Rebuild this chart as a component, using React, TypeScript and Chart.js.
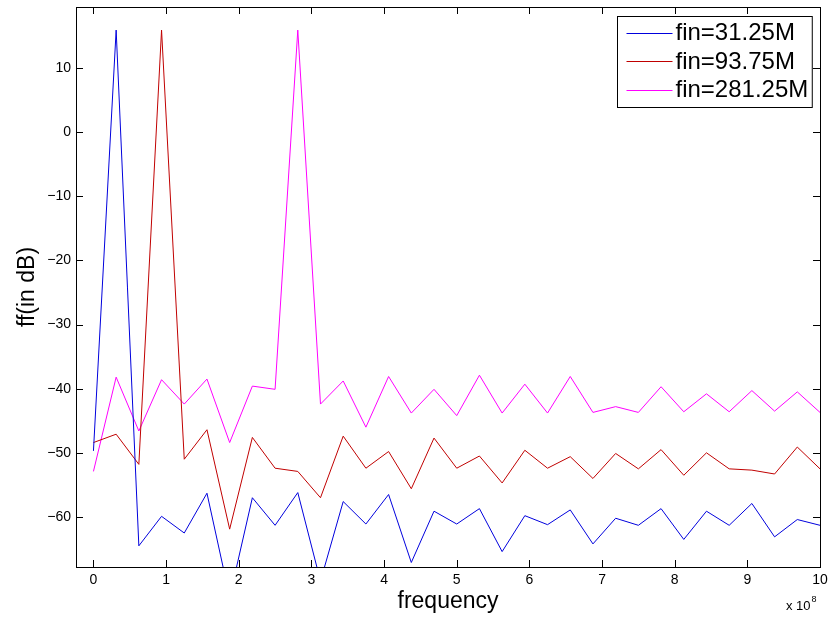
import React, { useEffect, useRef } from "react";
import { Chart, registerables } from "chart.js";

Chart.register(...registerables);

// frequency in units of 1e8 Hz
const frequency = [
  0, 0.3125, 0.625, 0.9375, 1.25, 1.5625, 1.875, 2.1875, 2.5, 2.8125, 3.125,
  3.4375, 3.75, 4.0625, 4.375, 4.6875, 5, 5.3125, 5.625, 5.9375, 6.25, 6.5625,
  6.875, 7.1875, 7.5, 7.8125, 8.125, 8.4375, 8.75, 9.0625, 9.375, 9.6875, 10,
];

const fin31 = [
  -49.7, 15.9, -64.5, -59.9, -62.5, -56.3, -72.5, -57.0, -61.3, -56.2, -70.0,
  -57.6, -61.1, -56.5, -67.1, -59.1, -61.1, -58.7, -65.4, -59.8, -61.2, -58.9,
  -64.2, -60.2, -61.3, -58.7, -63.5, -59.1, -61.3, -57.9, -63.1, -60.4, -61.3,
];

const fin93 = [
  -48.4, -47.1, -51.8, 15.9, -51.0, -46.4, -61.9, -47.6, -52.4, -52.9, -57.0,
  -47.4, -52.4, -49.8, -55.6, -47.7, -52.4, -50.5, -54.7, -49.6, -52.4, -50.6,
  -54.0, -50.1, -52.5, -49.5, -53.5, -50.0, -52.5, -52.7, -53.3, -49.1, -52.5,
];

const fin281 = [
  -52.9, -38.2, -46.6, -38.6, -42.4, -38.5, -48.4, -39.6, -40.1, 15.9, -42.4,
  -38.8, -46.0, -38.1, -43.8, -40.1, -44.2, -37.9, -43.8, -39.3, -43.8, -38.1,
  -43.7, -42.8, -43.7, -39.7, -43.6, -40.8, -43.6, -40.3, -43.5, -40.5, -43.7,
];

const seriesLabels = ["fin=31.25M", "fin=93.75M", "fin=281.25M"];
const seriesColors = ["#0000dd", "#c00000", "#ff00ff"];

const xTicks = [0, 1, 2, 3, 4, 5, 6, 7, 8, 9, 10];
const yTicks = [-60, -50, -40, -30, -20, -10, 0, 10];

const FONT = "'Liberation Sans', Arial, Helvetica, sans-serif";

const framePlugin = {
  id: "matlabFrame",
  afterDatasetsDraw(chart: any) {
    const { ctx, chartArea } = chart;
    const { left, right, top, bottom } = chartArea;
    const xs = chart.scales.x;
    const ys = chart.scales.y;
    const tl = 7;
    ctx.save();
    ctx.strokeStyle = "#000";
    ctx.lineWidth = 1;
    ctx.beginPath();
    xs.ticks.forEach((t: any) => {
      const px = Math.round(xs.getPixelForValue(t.value)) + 0.5;
      ctx.moveTo(px, bottom);
      ctx.lineTo(px, bottom - tl);
      ctx.moveTo(px, top);
      ctx.lineTo(px, top + tl);
    });
    ys.ticks.forEach((t: any) => {
      const py = Math.round(ys.getPixelForValue(t.value)) + 0.5;
      ctx.moveTo(left, py);
      ctx.lineTo(left + tl, py);
      ctx.moveTo(right, py);
      ctx.lineTo(right - tl, py);
    });
    ctx.stroke();
    ctx.strokeRect(
      Math.round(left) + 0.5,
      Math.round(top) + 0.5,
      Math.round(right - left),
      Math.round(bottom - top)
    );
    // exponent label
    ctx.fillStyle = "#000";
    ctx.textBaseline = "alphabetic";
    ctx.textAlign = "left";
    ctx.font = `13px ${FONT}`;
    ctx.fillText("x 10", right - 34, bottom + 43);
    const w = ctx.measureText("x 10").width;
    ctx.font = `9px ${FONT}`;
    ctx.fillText("8", right - 34 + w + 1, bottom + 35);
    ctx.restore();
  },
};

const legendPlugin = {
  id: "boxLegend",
  afterDraw(chart: any) {
    const { ctx, chartArea } = chart;
    const ds = chart.data.datasets;
    ctx.save();
    ctx.font = `24px ${FONT}`;
    let maxW = 0;
    ds.forEach((d: any) => {
      maxW = Math.max(maxW, ctx.measureText(d.label).width);
    });
    const lineLen = 46;
    const boxW = 9 + lineLen + 3 + maxW + 4;
    const boxH = 91;
    const bx = Math.round(chartArea.right - 8 - boxW) + 0.5;
    const by = Math.round(chartArea.top + 9) + 0.5;
    ctx.fillStyle = "#fff";
    ctx.fillRect(bx, by, boxW, boxH);
    ctx.strokeStyle = "#000";
    ctx.lineWidth = 1;
    ctx.strokeRect(bx, by, boxW, boxH);
    ds.forEach((d: any, i: number) => {
      const cy = by + 16 + i * 28.5;
      ctx.strokeStyle = seriesColors[i];
      ctx.lineWidth = 1;
      ctx.beginPath();
      ctx.moveTo(bx + 9, Math.round(cy) + 0.5);
      ctx.lineTo(bx + 9 + lineLen, Math.round(cy) + 0.5);
      ctx.stroke();
      ctx.fillStyle = "#000";
      ctx.textBaseline = "middle";
      ctx.textAlign = "left";
      ctx.fillText(d.label, bx + 9 + lineLen + 3, cy + 1);
    });
    ctx.restore();
  },
};

export default function App() {
  const ref = useRef<HTMLCanvasElement | null>(null);

  useEffect(() => {
    if (!ref.current) return;
    const series = [fin31, fin93, fin281];
    const chart = new Chart(ref.current, {
      type: "line",
      data: {
        datasets: series.map((vals, i) => ({
          label: seriesLabels[i],
          data: frequency.map((f, j) => ({ x: f, y: vals[j] })),
          borderColor: seriesColors[i],
          backgroundColor: seriesColors[i],
          borderWidth: 1,
          pointRadius: 0,
          tension: 0,
          fill: false,
        })),
      },
      options: {
        responsive: false,
        animation: false,
        layout: { padding: { top: 7, right: 10, left: 0, bottom: 0 } },
        plugins: {
          legend: { display: false },
          tooltip: { enabled: false },
        },
        scales: {
          x: {
            type: "linear",
            min: -0.24,
            max: 10,
            afterFit: (s: any) => {
              s.height = 52;
              s.paddingLeft = 0;
              s.paddingRight = 0;
            },
            afterBuildTicks: (s: any) => {
              s.ticks = xTicks.map((v) => ({ value: v }));
            },
            grid: { display: false, drawTicks: false },
            border: { display: false },
            ticks: {
              color: "#000",
              padding: 5,
              maxRotation: 0,
              autoSkip: false,
              font: { family: FONT, size: 14 },
              callback: (v: any) => String(v),
            },
            title: {
              display: true,
              text: "frequency",
              color: "#000",
              font: { family: FONT, size: 23 },
              padding: { top: 0, bottom: 4 },
            },
          },
          y: {
            type: "linear",
            min: -67.8,
            max: 19.5,
            afterFit: (s: any) => {
              s.width = 76;
              s.paddingTop = 0;
              s.paddingBottom = 0;
            },
            afterBuildTicks: (s: any) => {
              s.ticks = yTicks.map((v) => ({ value: v }));
            },
            grid: { display: false, drawTicks: false },
            border: { display: false },
            ticks: {
              color: "#000",
              padding: 5,
              autoSkip: false,
              font: { family: FONT, size: 14 },
              callback: (v: any) =>
                v < 0 ? "\u2212" + String(Math.abs(v)) : String(v),
            },
            title: {
              display: true,
              text: "ff(in dB)",
              color: "#000",
              font: { family: FONT, size: 23 },
              padding: { top: 14, bottom: 0 },
            },
          },
        },
      },
      plugins: [framePlugin, legendPlugin],
    });
    return () => chart.destroy();
  }, []);

  return (
    <div style={{ position: "absolute", left: 0, top: 0, width: 830, height: 619, background: "#fff" }}>
      <canvas ref={ref} width={830} height={619} />
    </div>
  );
}
